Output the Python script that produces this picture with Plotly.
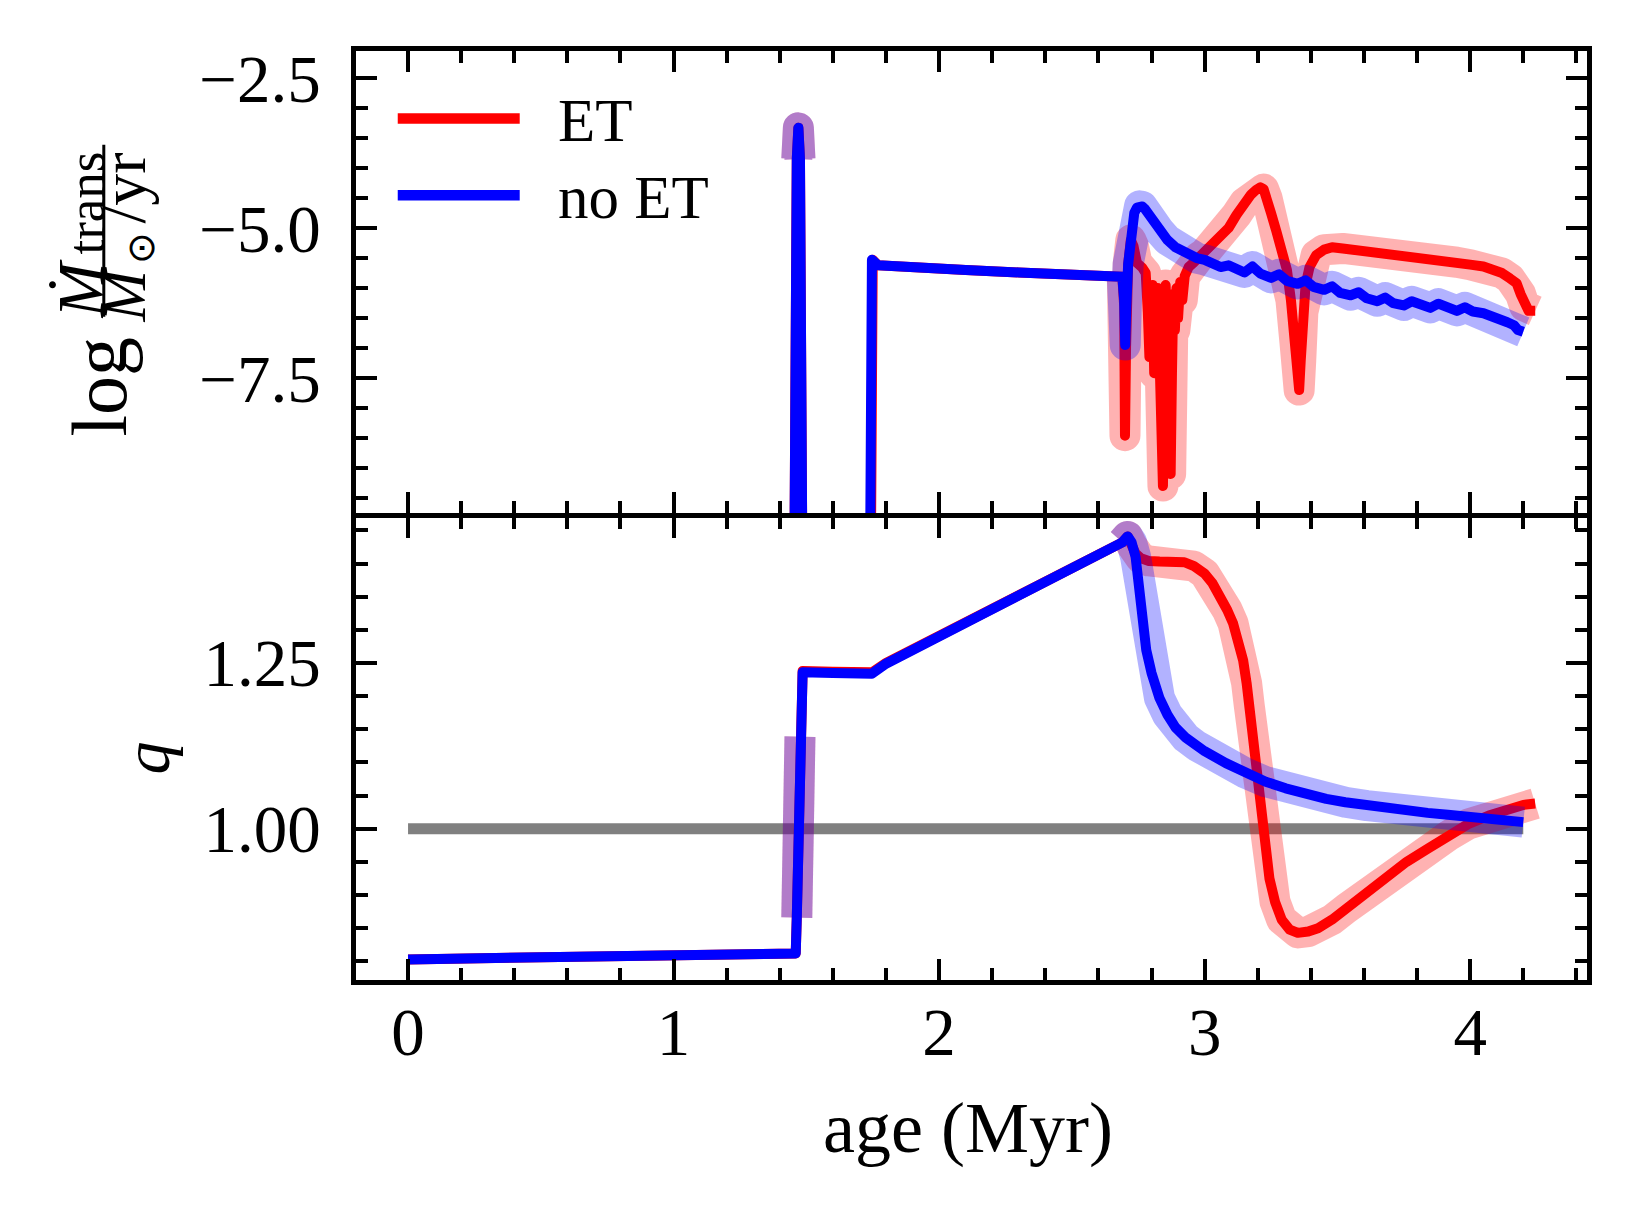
import numpy as np
import plotly.graph_objects as go

# log of mass transfer rate (Msun/yr) vs age (Myr); -10.5 means no transfer (off scale)
et_age_top = [0.0, 1.455, 1.464, 1.470, 1.476, 1.485, 1.743, 1.746, 1.750, 1.77, 1.9, 2.1, 2.3, 2.5,
              2.69, 2.697, 2.700, 2.704, 2.712, 2.722, 2.732, 2.745, 2.765, 2.778, 2.786, 2.792, 2.798,
              2.804, 2.810, 2.816, 2.822, 2.828, 2.834, 2.839, 2.843, 2.848, 2.853, 2.858, 2.863, 2.868,
              2.872, 2.877, 2.882, 2.888, 2.894, 2.900, 2.908, 2.916, 2.925, 2.94, 2.96, 2.98, 3.0, 3.03,
              3.06, 3.09, 3.12, 3.15, 3.175, 3.195, 3.21, 3.222, 3.235, 3.25, 3.27, 3.29, 3.31, 3.325, 3.34,
              3.35, 3.356, 3.362, 3.37, 3.38, 3.395, 3.42, 3.45, 3.48, 3.52, 3.56, 3.60, 3.65, 3.70, 3.75,
              3.80, 3.85, 3.90, 3.95, 4.0, 4.05, 4.09, 4.12, 4.15, 4.175, 4.19, 4.205, 4.22, 4.245]
et_mdot = [-10.5, -10.5, -3.85, -3.33, -3.85, -10.5, -10.5, -5.62, -5.53, -5.62, -5.66, -5.70, -5.74, -5.77,
           -5.81, -6.3, -8.46, -7.0, -5.6, -5.2, -5.3, -5.58, -5.66, -5.75, -6.4, -7.15, -6.2,
           -5.95, -7.42, -6.5, -6.0, -6.8, -7.6, -8.6, -9.30, -7.2, -5.95, -6.5, -7.3, -8.2,
           -9.10, -7.4, -6.1, -6.7, -6.0, -6.5, -5.9, -6.2, -5.8, -5.65, -5.57, -5.48, -5.42, -5.30,
           -5.18, -5.0, -4.78, -4.58, -4.44, -4.36, -4.32, -4.35, -4.50, -4.75, -5.05, -5.35, -5.7, -6.2, -6.9,
           -7.5, -7.7, -7.2, -6.4, -5.95, -5.65, -5.45, -5.36, -5.32, -5.34, -5.36, -5.37, -5.41, -5.43, -5.46,
           -5.48, -5.51, -5.54, -5.57, -5.61, -5.64, -5.68, -5.75, -5.84, -5.92, -6.1, -6.3, -6.38, -6.38]

noet_age_top = [0.0, 1.455, 1.464, 1.470, 1.476, 1.485, 1.740, 1.743, 1.747, 1.77, 1.9, 2.1, 2.3, 2.5,
                2.69, 2.697, 2.701, 2.705, 2.712, 2.722, 2.735, 2.745, 2.755, 2.765, 2.775, 2.80, 2.83, 2.86,
                2.89, 2.93, 2.97, 3.00, 3.03, 3.06, 3.09, 3.12, 3.15, 3.18, 3.21, 3.25, 3.28, 3.31, 3.35, 3.38,
                3.41, 3.45, 3.48, 3.51, 3.55, 3.58, 3.61, 3.65, 3.68, 3.71, 3.75, 3.78, 3.81, 3.85, 3.88, 3.91,
                3.95, 3.98, 4.01, 4.05, 4.08, 4.11, 4.14, 4.165, 4.18, 4.20]
noet_mdot = [-10.5, -10.5, -3.85, -3.33, -3.85, -10.5, -10.5, -5.62, -5.53, -5.62, -5.66, -5.70, -5.74, -5.77,
             -5.81, -6.2, -6.95, -6.3, -5.6, -5.05, -4.75, -4.66, -4.63, -4.64, -4.68, -4.85, -5.05, -5.2,
             -5.32, -5.42, -5.50, -5.53, -5.60, -5.65, -5.62, -5.70, -5.74, -5.64, -5.76, -5.83, -5.77, -5.88, -5.93,
             -5.87, -5.98, -6.03, -5.97, -6.08, -6.12, -6.07, -6.17, -6.22, -6.16, -6.25, -6.29, -6.22, -6.28, -6.33,
             -6.26, -6.33, -6.38, -6.32, -6.39, -6.42, -6.46, -6.50, -6.57, -6.62, -6.70, -6.73]

# mass ratio q vs age (Myr)
et_age_q = [0.0, 0.5, 1.0, 1.455, 1.460, 1.464, 1.470, 1.476, 1.480, 1.486, 1.60, 1.747, 1.80, 1.874, 2.0,
            2.2, 2.4, 2.6, 2.69, 2.71, 2.725, 2.74, 2.76, 2.79, 2.83, 2.88, 2.924, 2.96, 3.0, 3.03, 3.061,
            3.085, 3.107, 3.127, 3.145, 3.158, 3.168, 3.18, 3.191, 3.202, 3.214, 3.228, 3.244, 3.265, 3.29,
            3.32, 3.351, 3.39, 3.427, 3.48, 3.534, 3.61, 3.687, 3.76, 3.84, 3.92, 3.992, 4.07, 4.145, 4.2, 4.245]
et_q = [0.803, 0.805, 0.807, 0.809, 0.812, 0.866, 1.0, 1.139, 1.234, 1.238, 1.237, 1.236, 1.250, 1.265, 1.294,
        1.334, 1.373, 1.412, 1.432, 1.441, 1.428, 1.415, 1.408, 1.404, 1.403, 1.403, 1.402, 1.396, 1.385, 1.37, 1.35,
        1.33, 1.31, 1.285, 1.254, 1.22, 1.186, 1.14, 1.097, 1.05, 1.0, 0.96, 0.925, 0.89, 0.863,
        0.848, 0.843, 0.845, 0.85, 0.863, 0.88, 0.904, 0.928, 0.95, 0.97, 0.99, 1.007, 1.02, 1.031, 1.036, 1.038]

noet_age_q = [0.0, 0.5, 1.0, 1.455, 1.460, 1.464, 1.470, 1.476, 1.480, 1.486, 1.60, 1.747, 1.80, 1.874, 2.0,
              2.2, 2.4, 2.6, 2.69, 2.71, 2.725, 2.74, 2.752, 2.765, 2.78, 2.80, 2.83, 2.86, 2.89, 2.93, 2.97,
              3.0, 3.08, 3.153, 3.23, 3.305, 3.38, 3.458, 3.53, 3.611, 3.69, 3.763, 3.84, 3.916, 3.99,
              4.069, 4.13, 4.20]
noet_q = [0.803, 0.805, 0.807, 0.809, 0.812, 0.866, 1.0, 1.139, 1.232, 1.236, 1.235, 1.234, 1.249, 1.264, 1.293,
          1.333, 1.372, 1.412, 1.432, 1.441, 1.432, 1.41, 1.37, 1.32, 1.27, 1.235, 1.197, 1.172, 1.153, 1.137, 1.125,
          1.117, 1.099, 1.084, 1.071, 1.061, 1.052, 1.045, 1.040, 1.035, 1.031, 1.028, 1.024, 1.021, 1.018,
          1.016, 1.013, 1.010]

# age windows that get the translucent highlight
hl_windows = [(1.463, 1.477), (2.685, 5.0)]

RED = 'rgb(255,0,0)'
BLUE = 'rgb(0,0,255)'
RED_HL = 'rgba(255,0,0,0.3)'
BLUE_HL = 'rgba(0,0,255,0.3)'
LW = 10
HLW = 31


def windowed(age, val):
    age = np.asarray(age)
    val = np.asarray(val)
    xs, ys = [], []
    for a, b in hl_windows:
        m = (age >= a) & (age <= b)
        xs += list(age[m]) + [None]
        ys += list(val[m]) + [None]
    return xs, ys


fig = go.Figure()

def add_line(x, y, color, width, xa, ya):
    fig.add_trace(go.Scatter(x=x, y=y, mode='lines', line=dict(color=color, width=width),
                             connectgaps=False, hoverinfo='skip', xaxis=xa, yaxis=ya))

# top panel
hx, hy = windowed(et_age_top, et_mdot)
add_line(hx, hy, RED_HL, HLW, 'x', 'y')
add_line(et_age_top, et_mdot, RED, LW, 'x', 'y')
hx, hy = windowed(noet_age_top, noet_mdot)
add_line(hx, hy, BLUE_HL, HLW, 'x', 'y')
add_line(noet_age_top, noet_mdot, BLUE, LW, 'x', 'y')

# bottom panel
add_line([noet_age_q[0], noet_age_q[-1]], [1, 1], 'rgb(128,128,128)', 11, 'x2', 'y2')
hx, hy = windowed(et_age_q, et_q)
add_line(hx, hy, RED_HL, HLW, 'x2', 'y2')
add_line(et_age_q, et_q, RED, LW, 'x2', 'y2')
hx, hy = windowed(noet_age_q, noet_q)
add_line(hx, hy, BLUE_HL, HLW, 'x2', 'y2')
add_line(noet_age_q, noet_q, BLUE, LW, 'x2', 'y2')

# pixel frame of the plot area (inner edges; axis lines sit just outside)
L, R, T, B = 356.25, 1587.5, 51.25, 980.25
H = B - T
top_lo = (B - 513.25) / H   # the two panels share one 4.5px divider line
bot_hi = (B - 517.75) / H

axis_style = dict(showline=True, linewidth=4.5, linecolor='black', mirror='ticks', ticks='inside',
                  ticklen=21, tickwidth=3.5, tickcolor='black', showgrid=False, zeroline=False,
                  tickfont=dict(size=67))
minor_style = dict(ticks='inside', ticklen=12, tickwidth=3.5, tickcolor='black', showgrid=False)

xr = [-0.196, 4.440]
fig.update_layout(
    width=1640, height=1216,
    margin=dict(l=L, r=1640 - R, t=T, b=1216 - B),
    plot_bgcolor='white', paper_bgcolor='white', showlegend=False,
    font=dict(family='Liberation Serif', size=66, color='black'),
    xaxis=dict(axis_style, domain=[0, 1], anchor='y', range=xr, dtick=1, tick0=0,
               minor=dict(minor_style, dtick=0.2), showticklabels=False),
    yaxis=dict(axis_style, domain=[top_lo, 1], anchor='x', range=[-9.749, -2.049], dtick=2.5, tick0=0,
               minor=dict(minor_style, dtick=0.5), tickformat='.1f', ticklabelstandoff=17),
    xaxis2=dict(axis_style, domain=[0, 1], anchor='y2', range=xr, matches='x', dtick=1, tick0=0,
                minor=dict(minor_style, dtick=0.2), ticklabelstandoff=-10),
    yaxis2=dict(axis_style, domain=[0, bot_hi], anchor='x2', range=[0.7719, 1.4695], dtick=0.25, tick0=0,
                minor=dict(minor_style, dtick=0.05), tickformat='.2f', ticklabelstandoff=17),
)


def px(X):
    return (X - L) / (R - L)
def py(Y):
    return (B - Y) / H

def label(text, X, Y, size, angle=0, xanchor='center'):
    fig.add_annotation(text=text, x=px(X), y=py(Y), xref='paper', yref='paper', showarrow=False,
                       textangle=angle, xanchor=xanchor, yanchor='middle', font=dict(size=size))

label('age (Myr)', 968, 1128, 72)
label('<i>q</i>', 147, 758, 66, angle=-90)

# y label of the top panel: log (Mdot_trans / Msun/yr), built piece by piece
label('log', 100, 387, 78, angle=-90)
label('<i>Ṁ</i>', 81, 289, 66, angle=-90)
label('trans', 86, 203, 53, angle=-90)
label('<i>M</i>', 124, 295, 62, angle=-90)
label('⊙', 141, 248, 38, angle=-90)
label('/yr', 124, 188, 64, angle=-90)
fig.add_shape(type='line', xref='paper', yref='paper', x0=px(104), x1=px(104), y0=py(145), y1=py(317),
              line=dict(color='black', width=3))

# legend
for name, color, Y in [('ET', RED, 118.7), ('no ET', BLUE, 195.5)]:
    fig.add_shape(type='line', xref='paper', yref='paper', x0=px(398), x1=px(520), y0=py(Y), y1=py(Y),
                  line=dict(color=color, width=10.5))
    label(name, 556, Y + 2, 61, xanchor='left')

# no page margin, and round line joins like the original figure
post = ("document.body.style.margin = '0px';"
        "document.querySelectorAll('path.js-line').forEach(function(p){p.style.strokeLinejoin = 'round';});")
fig.write_html("out.html", config={'displayModeBar': False}, post_script=post)
